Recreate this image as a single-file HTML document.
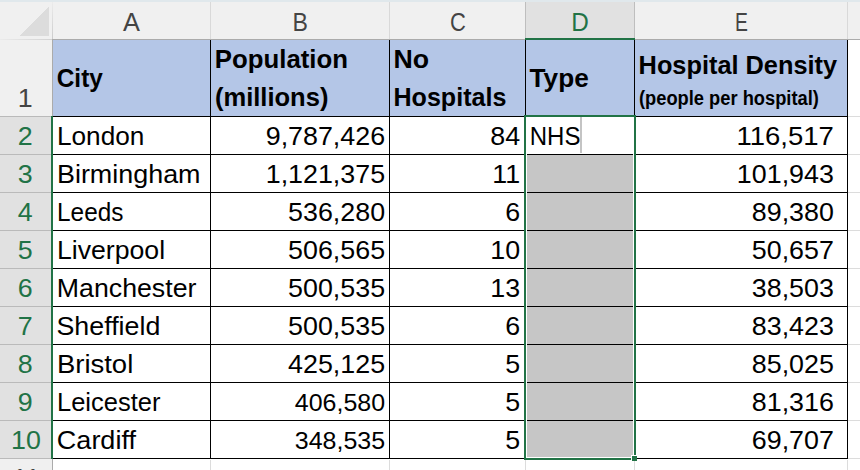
<!DOCTYPE html>
<html><head><meta charset="utf-8"><style>
html,body{margin:0;padding:0;background:#fff;}
body{width:860px;height:470px;overflow:hidden;}
svg{display:block;}
text{font-family:"Liberation Sans",sans-serif;}
</style></head><body>
<svg width="860" height="470" viewBox="0 0 860 470">
<defs><linearGradient id="gsa" x1="0" y1="0" x2="0" y2="1"><stop offset="0" stop-color="#ececec"/><stop offset="1" stop-color="#cccccc"/></linearGradient><linearGradient id="gsb" x1="0" y1="0" x2="1" y2="0"><stop offset="0" stop-color="#ebebeb"/><stop offset="1" stop-color="#d2d2d2"/></linearGradient></defs>
<g shape-rendering="crispEdges">
<rect x="0" y="0" width="860" height="470" fill="#ffffff"/>
<rect x="0" y="0" width="860" height="2" fill="#e0e8ec"/>
<rect x="0" y="2" width="860" height="37" fill="#f0f0f0"/>
<rect x="526" y="2" width="108" height="37" fill="#e1e1e1"/>
<rect x="210" y="2" width="1" height="37" fill="#d9d9d9"/>
<rect x="389" y="2" width="1" height="37" fill="#d9d9d9"/>
<rect x="525" y="2" width="1" height="37" fill="#bebebe"/>
<rect x="634" y="2" width="1" height="37" fill="#bebebe"/>
<rect x="847" y="2" width="1" height="37" fill="#d9d9d9"/>
<rect x="52" y="2" width="1" height="37" fill="url(#gsa)"/>
<rect x="0" y="39" width="52" height="1" fill="url(#gsb)"/>
<rect x="52" y="39" width="808" height="1" fill="#ababab"/>
<rect x="525" y="38" width="110" height="2" fill="#217346"/>
<polygon points="49,6 49,36 20,36" fill="#dcdcdc"/>
<rect x="0" y="40" width="52" height="430" fill="#f0f0f0"/>
<rect x="0" y="117" width="51" height="341" fill="#e1e1e1"/>
<rect x="0" y="116" width="52" height="1" fill="#bababa"/>
<rect x="0" y="154" width="52" height="1" fill="#bababa"/>
<rect x="0" y="192" width="52" height="1" fill="#bababa"/>
<rect x="0" y="230" width="52" height="1" fill="#bababa"/>
<rect x="0" y="268" width="52" height="1" fill="#bababa"/>
<rect x="0" y="306" width="52" height="1" fill="#bababa"/>
<rect x="0" y="344" width="52" height="1" fill="#bababa"/>
<rect x="0" y="382" width="52" height="1" fill="#bababa"/>
<rect x="0" y="420" width="52" height="1" fill="#bababa"/>
<rect x="0" y="458" width="52" height="1" fill="#bababa"/>
<rect x="52" y="40" width="1" height="430" fill="#ababab"/>
<rect x="51" y="116" width="2" height="343" fill="#217346"/>
<rect x="53" y="40" width="794" height="76" fill="#b4c6e7"/>
<rect x="210" y="460" width="1" height="10" fill="#dcdcdc"/>
<rect x="389" y="460" width="1" height="10" fill="#dcdcdc"/>
<rect x="525" y="460" width="1" height="10" fill="#dcdcdc"/>
<rect x="634" y="460" width="1" height="10" fill="#dcdcdc"/>
<rect x="847" y="460" width="1" height="10" fill="#dcdcdc"/>
<rect x="848" y="116" width="12" height="1" fill="#dcdcdc"/>
<rect x="848" y="154" width="12" height="1" fill="#dcdcdc"/>
<rect x="848" y="192" width="12" height="1" fill="#dcdcdc"/>
<rect x="848" y="230" width="12" height="1" fill="#dcdcdc"/>
<rect x="848" y="268" width="12" height="1" fill="#dcdcdc"/>
<rect x="848" y="306" width="12" height="1" fill="#dcdcdc"/>
<rect x="848" y="344" width="12" height="1" fill="#dcdcdc"/>
<rect x="848" y="382" width="12" height="1" fill="#dcdcdc"/>
<rect x="848" y="420" width="12" height="1" fill="#dcdcdc"/>
<rect x="848" y="458" width="12" height="1" fill="#dcdcdc"/>
<rect x="527" y="155" width="106" height="302" fill="#c6c6c6"/>
<rect x="53" y="116" width="795" height="1" fill="#000"/>
<rect x="53" y="154" width="795" height="1" fill="#000"/>
<rect x="53" y="192" width="795" height="1" fill="#000"/>
<rect x="53" y="230" width="795" height="1" fill="#000"/>
<rect x="53" y="268" width="795" height="1" fill="#000"/>
<rect x="53" y="306" width="795" height="1" fill="#000"/>
<rect x="53" y="344" width="795" height="1" fill="#000"/>
<rect x="53" y="382" width="795" height="1" fill="#000"/>
<rect x="53" y="420" width="795" height="1" fill="#000"/>
<rect x="53" y="458" width="795" height="1" fill="#000"/>
<rect x="210" y="40" width="1" height="419" fill="#000"/>
<rect x="389" y="40" width="1" height="419" fill="#000"/>
<rect x="525" y="40" width="1" height="419" fill="#000"/>
<rect x="634" y="40" width="1" height="419" fill="#000"/>
<rect x="847" y="40" width="1" height="419" fill="#000"/>
<rect x="524" y="115" width="2" height="345" fill="#217346"/>
<rect x="634" y="115" width="2" height="340" fill="#217346"/>
<rect x="524" y="115" width="112" height="2" fill="#217346"/>
<rect x="524" y="458" width="107" height="2" fill="#217346"/>
<rect x="526" y="117" width="1" height="341" fill="#fff"/>
<rect x="633" y="117" width="1" height="341" fill="#fff"/>
<rect x="526" y="457" width="108" height="1" fill="#fff"/>
<rect x="527" y="154" width="106" height="1" fill="#000"/>
<rect x="527" y="192" width="106" height="1" fill="#000"/>
<rect x="527" y="230" width="106" height="1" fill="#000"/>
<rect x="527" y="268" width="106" height="1" fill="#000"/>
<rect x="527" y="306" width="106" height="1" fill="#000"/>
<rect x="527" y="344" width="106" height="1" fill="#000"/>
<rect x="527" y="382" width="106" height="1" fill="#000"/>
<rect x="527" y="420" width="106" height="1" fill="#000"/>
<rect x="631" y="455" width="6" height="6" fill="#fff"/>
<rect x="632" y="456" width="5" height="5" fill="#217346"/>
<rect x="580" y="117" width="2" height="36" fill="#c4c4c4"/>
</g>
<g>
<text x="56.72" y="87" font-size="26.5" font-weight="bold" fill="#000" textLength="46.14" lengthAdjust="spacingAndGlyphs">City</text>
<text x="214.86" y="68" font-size="26.5" font-weight="bold" fill="#000" textLength="133.12" lengthAdjust="spacingAndGlyphs">Population</text>
<text x="214.92" y="106" font-size="26.5" font-weight="bold" fill="#000" textLength="113.54" lengthAdjust="spacingAndGlyphs">(millions)</text>
<text x="393.40" y="68" font-size="26.5" font-weight="bold" fill="#000" textLength="35.62" lengthAdjust="spacingAndGlyphs">No</text>
<text x="393.51" y="106" font-size="26.5" font-weight="bold" fill="#000" textLength="112.82" lengthAdjust="spacingAndGlyphs">Hospitals</text>
<text x="529.54" y="87" font-size="26.5" font-weight="bold" fill="#000" textLength="59.17" lengthAdjust="spacingAndGlyphs">Type</text>
<text x="638.59" y="74" font-size="26.5" font-weight="bold" fill="#000" textLength="198.54" lengthAdjust="spacingAndGlyphs">Hospital Density</text>
<text x="638.99" y="105" font-size="20" font-weight="bold" fill="#000" textLength="179.92" lengthAdjust="spacingAndGlyphs">(people per hospital)</text>
<text x="56.94" y="145" font-size="26" font-weight="normal" fill="#000" textLength="87.42" lengthAdjust="spacingAndGlyphs">London</text>
<text x="56.98" y="183" font-size="26" font-weight="normal" fill="#000" textLength="143.57" lengthAdjust="spacingAndGlyphs">Birmingham</text>
<text x="57.09" y="221" font-size="26" font-weight="normal" fill="#000" textLength="66.35" lengthAdjust="spacingAndGlyphs">Leeds</text>
<text x="56.90" y="259" font-size="26" font-weight="normal" fill="#000" textLength="108.22" lengthAdjust="spacingAndGlyphs">Liverpool</text>
<text x="56.80" y="297" font-size="26" font-weight="normal" fill="#000" textLength="139.60" lengthAdjust="spacingAndGlyphs">Manchester</text>
<text x="56.49" y="335" font-size="26" font-weight="normal" fill="#000" textLength="103.81" lengthAdjust="spacingAndGlyphs">Sheffield</text>
<text x="56.93" y="373" font-size="26" font-weight="normal" fill="#000" textLength="76.35" lengthAdjust="spacingAndGlyphs">Bristol</text>
<text x="57.00" y="411" font-size="26" font-weight="normal" fill="#000" textLength="103.39" lengthAdjust="spacingAndGlyphs">Leicester</text>
<text x="56.85" y="449" font-size="26" font-weight="normal" fill="#000" textLength="79.08" lengthAdjust="spacingAndGlyphs">Cardiff</text>
<text x="736.54" y="145" font-size="26" font-weight="normal" fill="#000" textLength="97.36" lengthAdjust="spacingAndGlyphs">116,517</text>
<text x="265.73" y="145" font-size="26" font-weight="normal" fill="#000" textLength="119.35" lengthAdjust="spacingAndGlyphs">9,787,426</text>
<text x="490.36" y="145" font-size="26" font-weight="normal" fill="#000" textLength="29.84" lengthAdjust="spacingAndGlyphs">84</text>
<text x="265.73" y="183" font-size="26" font-weight="normal" fill="#000" textLength="119.35" lengthAdjust="spacingAndGlyphs">1,121,375</text>
<text x="492.35" y="183" font-size="26" font-weight="normal" fill="#000" textLength="27.85" lengthAdjust="spacingAndGlyphs">11</text>
<text x="736.88" y="183" font-size="26" font-weight="normal" fill="#000" textLength="96.98" lengthAdjust="spacingAndGlyphs">101,943</text>
<text x="288.10" y="221" font-size="26" font-weight="normal" fill="#000" textLength="96.98" lengthAdjust="spacingAndGlyphs">536,280</text>
<text x="505.28" y="221" font-size="26" font-weight="normal" fill="#000" textLength="14.92" lengthAdjust="spacingAndGlyphs">6</text>
<text x="751.80" y="221" font-size="26" font-weight="normal" fill="#000" textLength="82.06" lengthAdjust="spacingAndGlyphs">89,380</text>
<text x="288.10" y="259" font-size="26" font-weight="normal" fill="#000" textLength="96.98" lengthAdjust="spacingAndGlyphs">506,565</text>
<text x="490.36" y="259" font-size="26" font-weight="normal" fill="#000" textLength="29.84" lengthAdjust="spacingAndGlyphs">10</text>
<text x="751.80" y="259" font-size="26" font-weight="normal" fill="#000" textLength="82.06" lengthAdjust="spacingAndGlyphs">50,657</text>
<text x="288.10" y="297" font-size="26" font-weight="normal" fill="#000" textLength="96.98" lengthAdjust="spacingAndGlyphs">500,535</text>
<text x="490.36" y="297" font-size="26" font-weight="normal" fill="#000" textLength="29.84" lengthAdjust="spacingAndGlyphs">13</text>
<text x="751.80" y="297" font-size="26" font-weight="normal" fill="#000" textLength="82.06" lengthAdjust="spacingAndGlyphs">38,503</text>
<text x="288.10" y="335" font-size="26" font-weight="normal" fill="#000" textLength="96.98" lengthAdjust="spacingAndGlyphs">500,535</text>
<text x="505.28" y="335" font-size="26" font-weight="normal" fill="#000" textLength="14.92" lengthAdjust="spacingAndGlyphs">6</text>
<text x="751.80" y="335" font-size="26" font-weight="normal" fill="#000" textLength="82.06" lengthAdjust="spacingAndGlyphs">83,423</text>
<text x="288.10" y="373" font-size="26" font-weight="normal" fill="#000" textLength="96.98" lengthAdjust="spacingAndGlyphs">425,125</text>
<text x="505.28" y="373" font-size="26" font-weight="normal" fill="#000" textLength="14.92" lengthAdjust="spacingAndGlyphs">5</text>
<text x="751.80" y="373" font-size="26" font-weight="normal" fill="#000" textLength="82.06" lengthAdjust="spacingAndGlyphs">85,025</text>
<text x="294.81" y="411" font-size="24.2" font-weight="normal" fill="#000" textLength="90.26" lengthAdjust="spacingAndGlyphs">406,580</text>
<text x="505.28" y="411" font-size="26" font-weight="normal" fill="#000" textLength="14.92" lengthAdjust="spacingAndGlyphs">5</text>
<text x="751.80" y="411" font-size="26" font-weight="normal" fill="#000" textLength="82.06" lengthAdjust="spacingAndGlyphs">81,316</text>
<text x="294.81" y="449" font-size="24.2" font-weight="normal" fill="#000" textLength="90.26" lengthAdjust="spacingAndGlyphs">348,535</text>
<text x="505.28" y="449" font-size="26" font-weight="normal" fill="#000" textLength="14.92" lengthAdjust="spacingAndGlyphs">5</text>
<text x="751.80" y="449" font-size="26" font-weight="normal" fill="#000" textLength="82.06" lengthAdjust="spacingAndGlyphs">69,707</text>
<text x="529.72" y="145" font-size="26" font-weight="normal" fill="#000" textLength="50.69" lengthAdjust="spacingAndGlyphs">NHS</text>
<text x="122.94" y="31" font-size="26" font-weight="normal" fill="#444" textLength="16.91" lengthAdjust="spacingAndGlyphs">A</text>
<text x="292.49" y="31" font-size="26" font-weight="normal" fill="#444" textLength="15.41" lengthAdjust="spacingAndGlyphs">B</text>
<text x="450.10" y="31" font-size="26" font-weight="normal" fill="#444" textLength="15.87" lengthAdjust="spacingAndGlyphs">C</text>
<text x="571.29" y="31" font-size="26" font-weight="normal" fill="#217346" textLength="17.55" lengthAdjust="spacingAndGlyphs">D</text>
<text x="734.90" y="31" font-size="26" font-weight="normal" fill="#444" textLength="12.91" lengthAdjust="spacingAndGlyphs">E</text>
<text x="17.69" y="107" font-size="26" font-weight="normal" fill="#444" textLength="14.92" lengthAdjust="spacingAndGlyphs">1</text>
<text x="17.81" y="145" font-size="26" font-weight="normal" fill="#217346" textLength="14.92" lengthAdjust="spacingAndGlyphs">2</text>
<text x="17.87" y="183" font-size="26" font-weight="normal" fill="#217346" textLength="14.92" lengthAdjust="spacingAndGlyphs">3</text>
<text x="17.87" y="221" font-size="26" font-weight="normal" fill="#217346" textLength="14.92" lengthAdjust="spacingAndGlyphs">4</text>
<text x="17.81" y="259" font-size="26" font-weight="normal" fill="#217346" textLength="14.92" lengthAdjust="spacingAndGlyphs">5</text>
<text x="17.70" y="297" font-size="26" font-weight="normal" fill="#217346" textLength="14.92" lengthAdjust="spacingAndGlyphs">6</text>
<text x="17.77" y="335" font-size="26" font-weight="normal" fill="#217346" textLength="14.92" lengthAdjust="spacingAndGlyphs">7</text>
<text x="17.81" y="373" font-size="26" font-weight="normal" fill="#217346" textLength="14.92" lengthAdjust="spacingAndGlyphs">8</text>
<text x="17.77" y="411" font-size="26" font-weight="normal" fill="#217346" textLength="14.92" lengthAdjust="spacingAndGlyphs">9</text>
<text x="11.11" y="449" font-size="26" font-weight="normal" fill="#217346" textLength="29.84" lengthAdjust="spacingAndGlyphs">10</text>
<text x="12.21" y="487" font-size="26" font-weight="normal" fill="#444" textLength="27.85" lengthAdjust="spacingAndGlyphs">11</text>
</g>
</svg>
</body></html>
